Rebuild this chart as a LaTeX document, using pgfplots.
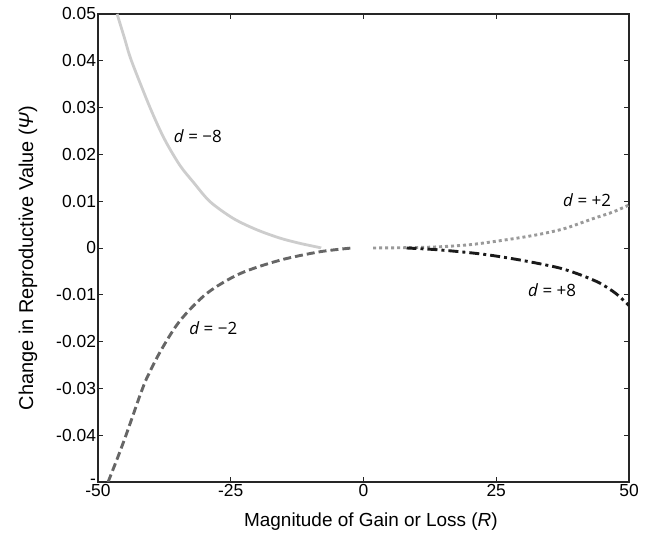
\documentclass[border=0pt]{standalone}
\usepackage{pgfplots}
\pgfplotsset{compat=1.18}
\usepackage{fontspec}
\setmainfont{Liberation Sans}
\newfontfamily\annfont{Open Sans}
\definecolor{cA}{HTML}{CDCDCD}
\definecolor{cB}{HTML}{666666}
\definecolor{cC}{HTML}{9A9A9A}
\definecolor{cD}{HTML}{1A1A1A}
\begin{document}
\begin{tikzpicture}
\begin{axis}[
  scale only axis, width=531bp, height=468bp,
  xmin=-50, xmax=50, ymin=-0.05, ymax=0.05,
  axis line style={line width=1.2pt, black!85},
  tick style={line width=0.6pt, black!85},
  tick align=inside, major tick length=5bp,
  xtick={-50,-25,0,25,50},
  xticklabels={-50,-25,0,25,50},
  ytick={-0.05,-0.04,-0.03,-0.02,-0.01,0,0.01,0.02,0.03,0.04,0.05},
  yticklabels={-,-0.04,-0.03,-0.02,-0.01,0,0.01,0.02,0.03,0.04,0.05},
  ticklabel style={font=\fontsize{17.5}{19}\selectfont},
  yticklabel style={xshift=1.5bp},
  xticklabel style={yshift=1bp},
  xlabel={Magnitude of Gain or Loss (\textit{R})},
  ylabel={Change in Reproductive Value (\textit{Ψ})},
  xlabel style={font=\fontsize{19}{21}\selectfont, at={(axis description cs:0.514,0)}, anchor=center, yshift=-40bp},
  ylabel style={font=\fontsize{20}{22}\selectfont, at={(axis description cs:-0.132,0.479)}, anchor=center},
  clip=true,
]
\coordinate (sw) at (rel axis cs:0,0);
\coordinate (ne) at (rel axis cs:1,1);
\addplot[cA, line width=2.8bp, smooth, tension=0.5] coordinates {
(-46.4,0.050) (-45,0.0448) (-43.7,0.040) (-40.2,0.030) (-37.5,0.0233)
(-34.6,0.0177) (-32,0.0140) (-28.9,0.0099) (-24.5,0.0063) (-20.1,0.0039)
(-15.7,0.0021) (-12,0.0010) (-8.5,0.00015) (-8,0)};
\addplot[cB, line width=2.9bp, dash pattern=on 8bp off 4bp, smooth, tension=0.5] coordinates {
(-48.1,-0.05) (-46.3,-0.0448) (-44.6,-0.0396) (-42.1,-0.0315) (-41.1,-0.0285)
(-38.3,-0.0222) (-34.6,-0.0156) (-29.5,-0.0097) (-23.3,-0.0055)
(-15.7,-0.0026) (-8.2,-0.0008) (-2.2,0)};
\addplot[cC, line width=2.9bp, dash pattern=on 3bp off 3bp, smooth, tension=0.5] coordinates {
(1.8,0) (10,0.0001) (15,0.0003) (20,0.0007) (24.4,0.00135) (30,0.0023)
(33.9,0.0031) (38,0.0042) (43.3,0.0063) (47,0.0077) (50,0.0092)};
\addplot[cD, line width=2.9bp, dash pattern=on 10bp off 4bp on 3bp off 4bp, smooth, tension=0.5] coordinates {
(8.1,0) (13,-0.0003) (18.2,-0.0008) (23,-0.0014) (27.6,-0.0022) (32,-0.0031)
(37,-0.0043) (41,-0.0058) (44.5,-0.0075) (47.5,-0.0097) (50,-0.0123)};
\node[font=\annfont\fontsize{17}{19}\selectfont] at (axis cs:-31.2,0.0239) {\textit{d} = −8};
\node[font=\annfont\fontsize{17}{19}\selectfont] at (axis cs:-28.3,-0.0171) {\textit{d} = −2};
\node[font=\annfont\fontsize{17}{19}\selectfont] at (axis cs:42.1,0.0103) {\textit{d} = +2};
\node[font=\annfont\fontsize{17}{19}\selectfont] at (axis cs:35.5,-0.0090) {\textit{d} = +8};
\end{axis}
\pgfresetboundingbox
\path[use as bounding box] ([shift={(-98bp,-53bp)}]sw) rectangle ([shift={(25bp,14bp)}]ne);
\end{tikzpicture}
\end{document}
